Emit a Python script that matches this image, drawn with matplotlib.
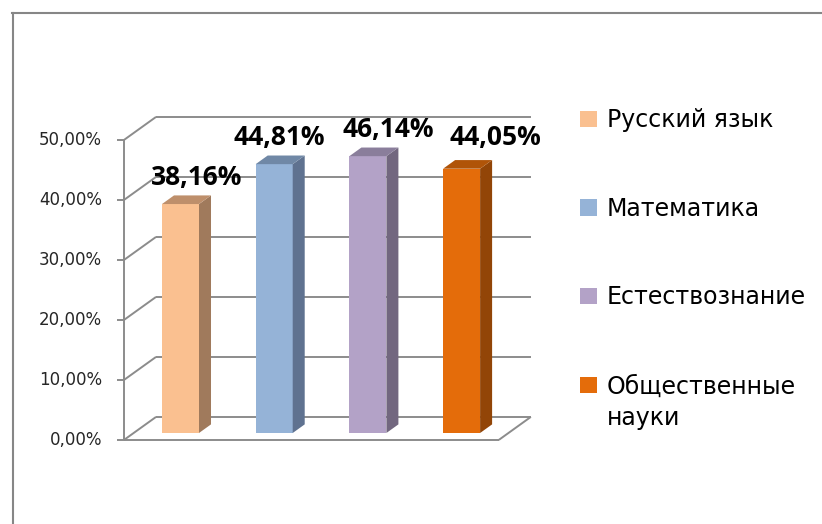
import matplotlib.pyplot as plt
from matplotlib.patches import Polygon, Rectangle
from matplotlib.lines import Line2D

# data
subjects = ['Русский язык', 'Математика', 'Естествознание', 'Общественные\nнауки']
values = [38.16, 44.81, 46.14, 44.05]
value_labels = ['38,16%', '44,81%', '46,14%', '44,05%']
ticks = [0, 10, 20, 30, 40, 50]
tick_labels = ['0,00%', '10,00%', '20,00%', '30,00%', '40,00%', '50,00%']

# colours: front face, side face, top face
front_colors = ['#FAC090', '#95B3D7', '#B3A2C7', '#E46C0A']
side_colors = ['#A07A5C', '#5F7290', '#72677F', '#924507']
top_colors = ['#BE8F6B', '#7088A6', '#8A7E9B', '#B05408']

# label nudges (x in categories, y in %) to follow the original placement
label_dx = [0.176, 0.053, 0.213, 0.358]
label_dy = [3.2, 3.2, 3.2, 3.95]

GRID = '#8C8C8C'

W, H = 822, 524
fig = plt.figure(figsize=(W / 100, H / 100), dpi=100)

# axes = the plane the bars stand in
ax = fig.add_axes([133.65 / W, (H - 433) / H, 374.8 / W, 300 / H])
ax.set_xlim(-0.5, 3.5)
ax.set_ylim(0, 50)
ax.axis('off')

# depth vector (front -> back), bars stand at 30% of depth
Dx, Dy = 32 / 93.7, 23 / 6.0
t_bar = 0.3


def at(x, y, t):
    return x + (t - t_bar) * Dx, y + (t - t_bar) * Dy


def line(p, q, **kw):
    ax.add_line(Line2D([p[0], q[0]], [p[1], q[1]], color=GRID, lw=1.4,
                       clip_on=False, solid_capstyle='butt', **kw))


x0, x1 = -0.5, 3.5
for v, lab in zip(ticks, tick_labels):
    # back wall gridline
    line(at(x0, v, 1), at(x1, v, 1))
    # side wall
    line(at(x0, v, 0), at(x0, v, 1))
    # tick
    fx, fy = at(x0, v, 0)
    line((fx - 0.075, fy), (fx, fy))
    ax.text(fx - 0.235, fy, lab, ha='right', va='center', fontsize=12,
            family='DejaVu Sans', color='#262626')

# front axis and floor
line(at(x0, 0, 0), at(x0, 50, 0))
line(at(x0, 0, 0), at(x1, 0, 0))
line(at(x1, 0, 0), at(x1, 0, 1))

# bars
bw = 0.395
bd = 0.375
for i, v in enumerate(values):
    l, r = i - bw / 2, i + bw / 2
    ddx, ddy = bd * Dx, bd * Dy
    ax.bar(i, v, width=bw, color=front_colors[i], zorder=3)
    ax.add_patch(Polygon([(r, 0), (r + ddx, ddy), (r + ddx, v + ddy), (r, v)],
                         closed=True, facecolor=side_colors[i], edgecolor='none', zorder=3))
    ax.add_patch(Polygon([(l, v), (r, v), (r + ddx, v + ddy), (l + ddx, v + ddy)],
                         closed=True, facecolor=top_colors[i], edgecolor='none', zorder=3))
    ax.text(i + label_dx[i], v + label_dy[i], value_labels[i], ha='center', va='baseline',
            fontsize=19, fontweight='bold', family='Open Sans', color='black', zorder=5)

# legend (square + text, first line baseline at leg_y px)
leg_y = [127, 215.5, 304, 392.5]
line_px = 33
for name, c, y in zip(subjects, front_colors, leg_y):
    fig.patches.append(Rectangle((580 / W, (H - y) / H), 16.5 / W, 16 / H,
                                 transform=fig.transFigure, facecolor=c, edgecolor='none'))
    yb = y + line_px * name.count('\n')
    fig.text(607 / W, (H - yb) / H, name, ha='left', va='baseline', fontsize=17,
             family='DejaVu Sans', color='black', linespacing=1.4)

# chart area border (left and top)
fig.add_artist(Line2D([13 / W, 13 / W], [0, (H - 12.5) / H], color='#868686', lw=1.5,
                      transform=fig.transFigure))
fig.add_artist(Line2D([12.3 / W, 1], [(H - 12.5) / H, (H - 12.5) / H], color='#868686', lw=1.5,
                      transform=fig.transFigure))

fig.savefig('out.png', dpi=100, facecolor='white')
